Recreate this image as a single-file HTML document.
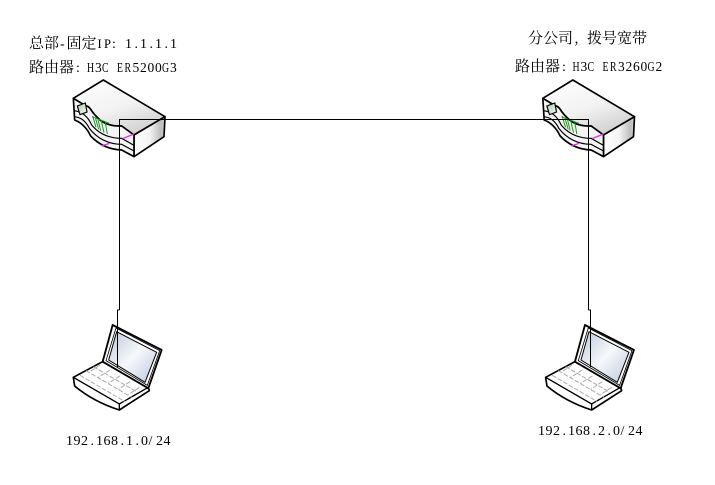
<!DOCTYPE html>
<html>
<head>
<meta charset="utf-8">
<style>
html,body{margin:0;padding:0;background:#fff;}
body{width:715px;height:485px;position:relative;overflow:hidden;}
svg{position:absolute;left:0;top:0;}
text{fill:#000;font-family:"Liberation Serif","Noto Serif CJK SC",serif;font-size:14px;}
.c{font-family:"Noto Serif CJK SC","Liberation Serif",serif;font-size:15px;}
.l{font-size:12.5px;}
</style>
</head>
<body>
<svg width="715" height="485" viewBox="0 0 715 485">
<defs>
<linearGradient id="top" x1="0" y1="0" x2="0.6" y2="1"><stop offset="0" stop-color="#fff"/><stop offset="0.6" stop-color="#f2f2f2"/><stop offset="1" stop-color="#d2d2d2"/></linearGradient>
<linearGradient id="side" x1="0" y1="0" x2="1" y2="0"><stop offset="0" stop-color="#fff"/><stop offset="0.5" stop-color="#f4f4f4"/><stop offset="0.88" stop-color="#bcbcbc"/><stop offset="1" stop-color="#dcdcdc"/></linearGradient>
<linearGradient id="scr" x1="0" y1="0" x2="1" y2="1"><stop offset="0" stop-color="#bcc8dc"/><stop offset="0.5" stop-color="#f6f8fb"/><stop offset="1" stop-color="#bcc8dc"/></linearGradient>
<linearGradient id="led" x1="0" y1="0" x2="1" y2="1"><stop offset="0" stop-color="#a8ccb4"/><stop offset="1" stop-color="#f4faf6"/></linearGradient>
<g id="router">
<path d="M40 85L130 30L315 140L222 195L185 168Q145 170 120 150Q100 132 92 118Q85 108 78 108Z" fill="url(#top)" stroke="#000" stroke-width="5" stroke-linejoin="round"/>
<path d="M222 195L315 140L312 200L222 260Z" fill="url(#side)" stroke="#000" stroke-width="5" stroke-linejoin="round"/>
<path d="M40 85L78 108Q85 108 92 118Q100 132 120 150Q145 170 185 168L222 195L222 260L185 240Q130 238 92 198Q75 162 44 150Z" fill="#f4f4f4" stroke="#000" stroke-width="5" stroke-linejoin="round"/>
<path d="M42 122Q78 126 95 165Q128 205 185 205L222 226" fill="none" stroke="#000" stroke-width="3.5"/>
<path d="M42 140Q72 142 88 175Q125 222 185 223L222 243" fill="none" stroke="#000" stroke-width="3.5"/>
<path d="M52 108L76 99L81 126L60 134Z" fill="url(#led)" stroke="#000" stroke-width="3.5"/>
<path d="M98 138L108 172M106 143L116 178M114 149L122 182M124 153L132 188M136 158L142 192M96 140L148 160" stroke="#1a9a1a" stroke-width="3" fill="none"/>
<path d="M188 206L222 192M125 228L148 220" stroke="#e030e0" stroke-width="4" fill="none"/>
</g>
<g id="laptop">
<path d="M128 185L40 232L44 258Q100 305 178 330L268 272L265 262Z" fill="#fff" stroke="#000" stroke-width="5" stroke-linejoin="round"/>
<path d="M40 232L178 312L265 262M178 312L178 330" fill="none" stroke="#000" stroke-width="4"/>
<path d="M128 185L158 75L305 150L265 265Z" fill="#fff" stroke="#000" stroke-width="5.5" stroke-linejoin="round"/>
<path d="M168 84L299 152L262 256L138 182Z" fill="none" stroke="#000" stroke-width="2.5"/>
<path d="M170 95L290 157L255 247L146 180Z" fill="url(#scr)" stroke="#000" stroke-width="3" stroke-linejoin="round"/>
<path d="M100 200L235 278M78 212L215 292M60 226L195 305M120 195L90 215M150 210L115 232M180 228L145 250M210 245L175 268M238 262L205 284" fill="none" stroke="#aaa" stroke-width="3" stroke-dasharray="14 5"/>
</g>
</defs>
<use href="#router" transform="translate(60 70) scale(.3333)"/>
<use href="#router" transform="translate(529.5 70) scale(.3333)"/>
<use href="#laptop" transform="translate(60 300) scale(.3333)"/>
<use href="#laptop" transform="translate(532.3 300) scale(.3333)"/>
<path d="M119.5 310V119.5H588.5V310M119.5 310H117.5V368M588.5 310H590.5V367" fill="none" stroke="#000" stroke-width="1" shape-rendering="crispEdges"/>

<text y="48"><tspan class="c" x="29 44">总部</tspan><tspan x="60">-</tspan><tspan class="c" x="66.5 81.5">固定</tspan><tspan class="l" x="97.5 104">IP</tspan><tspan x="112">:</tspan><tspan x="125 134.5 140 149.5 155 164.5 170">1.1.1.1</tspan></text>
<text y="72"><tspan class="c" x="29 44 59">路由器</tspan><tspan x="76">:</tspan></text>
<text transform="scale(.7 1)" y="72" x="124.3 145.7 167.1 177.9 231.4">HCERG</text>
<text y="72" style="font-size:13.5px" x="95 132.5 140 147.5 155 170">352003</text>
<text y="43" class="c" x="528 543 558 574 587 602 617 632">分公司,拨号宽带</text>
<text y="71"><tspan class="c" x="515 530 545">路由器</tspan><tspan x="562">:</tspan></text>
<text transform="scale(.7 1)" y="71" x="817.9 839.3 860.7 871.4 925">HCERG</text>
<text y="71" style="font-size:13.5px" x="580.5 618 625.5 633 640.5 655.5">332602</text>
<text y="445" x="66 73.5 81 90.5 96 103.5 111 120.5 126 135.5 141 148.5 156 163.5">192.168.1.0/24</text>
<text y="435" x="538 545.5 553 562.5 568 575.5 583 592.5 598 607.5 613 620.5 628 635.5">192.168.2.0/24</text>
</svg>
</body>
</html>
